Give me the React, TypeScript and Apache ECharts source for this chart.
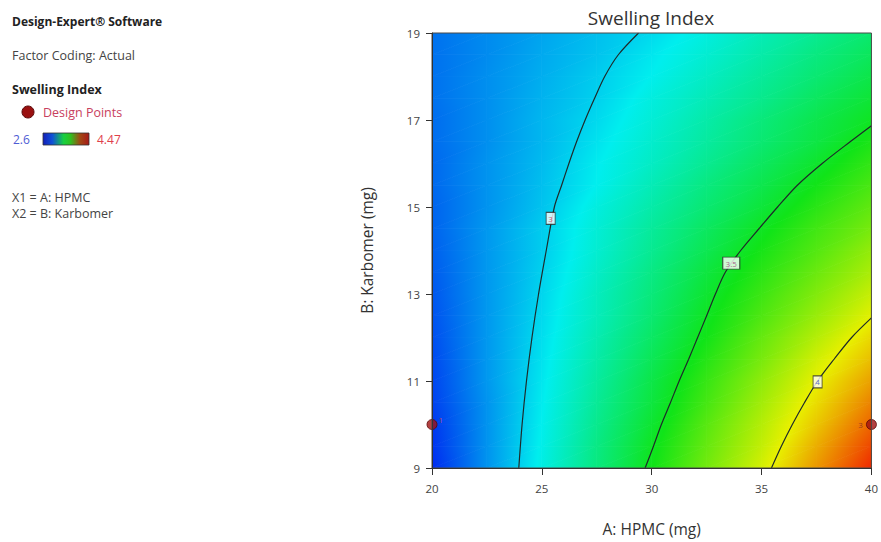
import React, { useEffect, useRef } from "react";
import * as echarts from "echarts";

// ---- Data ----
const A_LEVELS = [20, 22.5, 25, 27.5, 30, 32.5, 35, 37.5, 40];
const B_LEVELS = [9, 9.5, 10, 10.5, 11, 11.5, 12, 12.5, 13, 13.5, 14, 14.5, 15, 15.5, 16, 16.5, 17, 17.5, 18, 18.5, 19];

const rowB090 = [2.62, 2.86, 3.09, 3.31, 3.53, 3.75, 3.96, 4.21, 4.47];
const rowB095 = [2.64, 2.86, 3.08, 3.3, 3.51, 3.72, 3.92, 4.16, 4.4];
const rowB100 = [2.65, 2.86, 3.07, 3.28, 3.48, 3.69, 3.89, 4.1, 4.33];
const rowB105 = [2.67, 2.86, 3.06, 3.26, 3.45, 3.65, 3.85, 4.05, 4.26];
const rowB110 = [2.68, 2.87, 3.05, 3.24, 3.43, 3.62, 3.81, 4.0, 4.19];
const rowB115 = [2.69, 2.87, 3.04, 3.22, 3.4, 3.58, 3.76, 3.95, 4.12];
const rowB120 = [2.7, 2.87, 3.03, 3.2, 3.37, 3.54, 3.72, 3.89, 4.06];
const rowB125 = [2.71, 2.87, 3.02, 3.18, 3.34, 3.51, 3.67, 3.83, 3.99];
const rowB130 = [2.72, 2.87, 3.01, 3.17, 3.32, 3.48, 3.63, 3.78, 3.93];
const rowB135 = [2.73, 2.87, 3.0, 3.15, 3.3, 3.45, 3.59, 3.73, 3.87];
const rowB140 = [2.74, 2.87, 2.99, 3.13, 3.27, 3.41, 3.55, 3.68, 3.82];
const rowB145 = [2.75, 2.87, 2.99, 3.12, 3.25, 3.38, 3.51, 3.64, 3.76];
const rowB150 = [2.75, 2.86, 2.97, 3.1, 3.22, 3.34, 3.46, 3.59, 3.71];
const rowB155 = [2.76, 2.86, 2.96, 3.07, 3.19, 3.31, 3.42, 3.54, 3.66];
const rowB160 = [2.76, 2.86, 2.95, 3.06, 3.16, 3.27, 3.38, 3.49, 3.61];
const rowB165 = [2.77, 2.85, 2.94, 3.04, 3.14, 3.24, 3.34, 3.44, 3.56];
const rowB170 = [2.77, 2.85, 2.94, 3.02, 3.12, 3.22, 3.32, 3.42, 3.51];
const rowB175 = [2.78, 2.85, 2.93, 3.0, 3.1, 3.19, 3.28, 3.38, 3.47];
const rowB180 = [2.78, 2.85, 2.92, 2.99, 3.07, 3.16, 3.25, 3.34, 3.43];
const rowB185 = [2.78, 2.84, 2.91, 2.97, 3.05, 3.13, 3.22, 3.31, 3.39];
const rowB190 = [2.78, 2.84, 2.9, 2.96, 3.02, 3.1, 3.19, 3.27, 3.35];

const GRID_ROWS = [
  rowB090, rowB095, rowB100, rowB105, rowB110, rowB115, rowB120, rowB125, rowB130, rowB135,
  rowB140, rowB145, rowB150, rowB155, rowB160, rowB165, rowB170, rowB175, rowB180, rowB185, rowB190,
];

// contour lines (A, B)
const CONTOUR_3 = [[23.95, 9], [24.1, 10], [24.3, 11], [24.55, 12], [24.85, 13], [25.2, 14], [25.57, 15], [25.9, 15.5], [26.23, 16], [26.58, 16.5], [26.97, 17], [27.4, 17.5], [27.86, 18], [28.48, 18.5], [29.4, 19]];
const CONTOUR_35 = [[29.7, 9], [30.08, 9.5], [30.44, 10], [30.85, 10.5], [31.25, 11], [31.68, 11.5], [32.09, 12], [32.5, 12.5], [32.9, 13], [33.35, 13.5], [34.05, 14], [34.88, 14.5], [35.73, 15], [36.63, 15.5], [37.76, 16], [39.03, 16.5], [40, 16.87]];
const CONTOUR_4 = [[35.45, 9], [35.9, 9.5], [36.4, 10], [36.95, 10.5], [37.55, 11], [38.3, 11.5], [39.1, 12], [40, 12.45]];

const CONTOUR_LABELS = [
  { pos: [25.4, 14.74], text: "3", color: "#cc2a48", w: 9 },
  { pos: [33.62, 13.71], text: "3.5", color: "#9a3a78", w: 17 },
  { pos: [37.55, 10.98], text: "4", color: "#3050c0", w: 9 },
];

const DESIGN_POINTS = [[20, 10], [40, 10]];
const DESIGN_POINT_LABELS = ["1", "3"];

const X_TICKS = { min: 20, max: 40, interval: 5 };
const Y_TICKS = { min: 9, max: 19, interval: 2 };

const LEGEND_MIN = "2.6";
const LEGEND_MAX = "4.47";

// colour scale (value -> colour)
const SCALE_VALUES = [2.6, 3.0675, 3.535, 4.0025, 4.47];
const SCALE_COLORS = [
  [0, 34, 240],
  [0, 238, 238],
  [16, 228, 24],
  [232, 240, 0],
  [240, 40, 0],
];

const FONT = "'Open Sans', 'Noto Sans', sans-serif";

function colorAt(v: number): string {
  const n = SCALE_VALUES.length;
  let c: number[];
  if (v <= SCALE_VALUES[0]) c = SCALE_COLORS[0];
  else if (v >= SCALE_VALUES[n - 1]) c = SCALE_COLORS[n - 1];
  else {
    let i = 0;
    while (v > SCALE_VALUES[i + 1]) i++;
    const t = (v - SCALE_VALUES[i]) / (SCALE_VALUES[i + 1] - SCALE_VALUES[i]);
    const a = SCALE_COLORS[i], b = SCALE_COLORS[i + 1];
    c = [a[0] + (b[0] - a[0]) * t, a[1] + (b[1] - a[1]) * t, a[2] + (b[2] - a[2]) * t];
  }
  return `rgb(${Math.round(c[0])},${Math.round(c[1])},${Math.round(c[2])})`;
}

function shadeTriangle(p0: number[], p1: number[], p2: number[], v0: number, v1: number, v2: number) {
  const vmin = Math.min(v0, v1, v2);
  const vmax = Math.max(v0, v1, v2);
  const d1x = p1[0] - p0[0], d1y = p1[1] - p0[1];
  const d2x = p2[0] - p0[0], d2y = p2[1] - p0[1];
  const det = d1x * d2y - d1y * d2x;
  let fill: any, stroke: any;
  if (vmax - vmin < 1e-5 || Math.abs(det) < 1e-6) {
    fill = colorAt((v0 + v1 + v2) / 3);
    stroke = fill;
  } else {
    const dv1 = v1 - v0, dv2 = v2 - v0;
    const gx = (dv1 * d2y - dv2 * d1y) / det;
    const gy = (d1x * dv2 - d2x * dv1) / det;
    const g2 = gx * gx + gy * gy;
    const sx = p0[0] + (gx * (vmin - v0)) / g2;
    const sy = p0[1] + (gy * (vmin - v0)) / g2;
    const ex = p0[0] + (gx * (vmax - v0)) / g2;
    const ey = p0[1] + (gy * (vmax - v0)) / g2;
    const offs = [0, 0.5, 1];
    SCALE_VALUES.forEach((k) => {
      if (k > vmin && k < vmax) offs.push((k - vmin) / (vmax - vmin));
    });
    offs.sort((a, b) => a - b);
    const stops = offs.map((o) => ({ offset: o, color: colorAt(vmin + o * (vmax - vmin)) }));
    fill = new echarts.graphic.LinearGradient(sx, sy, ex, ey, stops, true);
    stroke = new echarts.graphic.LinearGradient(sx, sy, ex, ey, stops.map((s) => ({ ...s })), true);
  }
  return {
    type: "polygon",
    shape: { points: [p0, p1, p2] },
    style: { fill, stroke, lineWidth: 0.8 },
  };
}

function buildCells() {
  const cells: number[][] = [];
  for (let j = 0; j < B_LEVELS.length - 1; j++) {
    for (let i = 0; i < A_LEVELS.length - 1; i++) {
      cells.push([
        A_LEVELS[i], B_LEVELS[j], A_LEVELS[i + 1], B_LEVELS[j + 1],
        GRID_ROWS[j][i], GRID_ROWS[j][i + 1], GRID_ROWS[j + 1][i], GRID_ROWS[j + 1][i + 1],
      ]);
    }
  }
  return cells;
}

function contourSeries(data: number[][]) {
  return {
    type: "line",
    data,
    smooth: 0.3,
    showSymbol: false,
    symbol: "none",
    silent: true,
    z: 4,
    lineStyle: { color: "#1e2a2a", width: 1.2 },
  };
}

export default function App() {
  const ref = useRef<HTMLDivElement>(null);
  useEffect(() => {
    const chart = echarts.init(ref.current!, null, { renderer: "svg" });
    const option: any = {
      animation: false,
      backgroundColor: "#ffffff",
      textStyle: { fontFamily: FONT },
      grid: {
        left: 432,
        right: 9,
        top: 33,
        bottom: 70,
        show: true,
        borderColor: "#4a4a4a",
        borderWidth: 1,
        backgroundColor: "transparent",
        z: 10,
      },
      xAxis: {
        type: "value",
        min: X_TICKS.min,
        max: X_TICKS.max,
        interval: X_TICKS.interval,
        name: "A: HPMC (mg)",
        nameLocation: "middle",
        nameGap: 53,
        nameTextStyle: { fontSize: 15.5, color: "#333", fontFamily: FONT },
        axisLine: { show: true, lineStyle: { color: "#333", width: 1 } },
        axisTick: { show: true, length: 7, lineStyle: { color: "#333" } },
        axisLabel: { color: "#444", fontSize: 11.5, margin: 14, fontFamily: FONT },
        splitLine: { show: false },
        z: 10,
      },
      yAxis: {
        type: "value",
        min: Y_TICKS.min,
        max: Y_TICKS.max,
        interval: Y_TICKS.interval,
        name: "B: Karbomer (mg)",
        nameLocation: "middle",
        nameRotate: 90,
        nameGap: 57,
        nameTextStyle: { fontSize: 15.5, color: "#333", fontFamily: FONT },
        axisLine: { show: true, lineStyle: { color: "#333", width: 1 } },
        axisTick: { show: true, length: 6, lineStyle: { color: "#333" } },
        axisLabel: { color: "#444", fontSize: 11.5, margin: 12, fontFamily: FONT },
        splitLine: { show: false },
        z: 10,
      },
      graphic: [
        { type: "text", x: 651, y: 18, style: { text: "Swelling Index", fontSize: 19, fill: "#333", align: "center", verticalAlign: "middle", fontFamily: FONT } },
        { type: "text", x: 12, y: 21, style: { text: "Design-Expert® Software", fontSize: 12, fontWeight: "bold", fill: "#222", verticalAlign: "middle", fontFamily: FONT } },
        { type: "text", x: 12, y: 55, style: { text: "Factor Coding: Actual", fontSize: 12.5, fill: "#444", verticalAlign: "middle", fontFamily: FONT } },
        { type: "text", x: 12, y: 89, style: { text: "Swelling Index", fontSize: 12.5, fontWeight: "bold", fill: "#222", verticalAlign: "middle", fontFamily: FONT } },
        { type: "circle", shape: { cx: 28, cy: 112, r: 6 }, style: { fill: "#9a1010", stroke: "#5a0808", lineWidth: 1 } },
        { type: "text", x: 43, y: 112, style: { text: "Design Points", fontSize: 12.5, fill: "#c8405e", verticalAlign: "middle", fontFamily: FONT } },
        { type: "text", x: 13, y: 139, style: { text: LEGEND_MIN, fontSize: 12, fill: "#4e5cd4", verticalAlign: "middle", fontFamily: FONT } },
        {
          type: "rect",
          shape: { x: 43, y: 133, width: 46, height: 12 },
          style: {
            fill: new echarts.graphic.LinearGradient(0, 0, 1, 0, [
              { offset: 0, color: "#1420b8" },
              { offset: 0.2, color: "#1050d8" },
              { offset: 0.45, color: "#18d040" },
              { offset: 0.6, color: "#30c020" },
              { offset: 0.8, color: "#a04a14" },
              { offset: 1, color: "#a81818" },
            ]),
            stroke: "#333",
            lineWidth: 0.8,
          },
        },
        { type: "text", x: 97, y: 139, style: { text: LEGEND_MAX, fontSize: 12, fill: "#e0404a", verticalAlign: "middle", fontFamily: FONT } },
        { type: "text", x: 12, y: 197, style: { text: "X1 = A: HPMC", fontSize: 12.5, fill: "#444", verticalAlign: "middle", fontFamily: FONT } },
        { type: "text", x: 12, y: 213, style: { text: "X2 = B: Karbomer", fontSize: 12.5, fill: "#444", verticalAlign: "middle", fontFamily: FONT } },
      ],
      series: [
        {
          type: "custom",
          silent: true,
          z: 1,
          clip: true,
          dimensions: ["a0", "b0", "a1", "b1", "v00", "v10", "v01", "v11"],
          encode: { x: [0, 2], y: [1, 3] },
          data: buildCells(),
          renderItem: (params: any, api: any) => {
            const a0 = api.value(0), b0 = api.value(1), a1 = api.value(2), b1 = api.value(3);
            const v00 = api.value(4), v10 = api.value(5), v01 = api.value(6), v11 = api.value(7);
            const p00 = api.coord([a0, b0]);
            const p10 = api.coord([a1, b0]);
            const p01 = api.coord([a0, b1]);
            const p11 = api.coord([a1, b1]);
            return {
              type: "group",
              children: [
                shadeTriangle(p00, p10, p11, v00, v10, v11),
                shadeTriangle(p00, p11, p01, v00, v11, v01),
              ],
            };
          },
        },
        contourSeries(CONTOUR_3),
        contourSeries(CONTOUR_35),
        contourSeries(CONTOUR_4),
        {
          type: "scatter",
          silent: true,
          z: 6,
          clip: false,
          data: CONTOUR_LABELS.map((l) => ({
            value: l.pos,
            symbol: "rect",
            symbolSize: [l.w, 12],
            itemStyle: { color: "#ffffff", borderColor: "#2a2a2a", borderWidth: 1 },
            label: { show: true, position: "inside", formatter: l.text, fontSize: 8, color: l.color, fontFamily: FONT },
          })),
        },
        {
          type: "scatter",
          silent: true,
          z: 7,
          clip: false,
          symbol: "circle",
          symbolSize: 10,
          itemStyle: { color: "#a01212", borderColor: "#5a0606", borderWidth: 1 },
          data: DESIGN_POINTS.map((p, i) => ({
            value: p,
            label: {
              show: true,
              formatter: DESIGN_POINT_LABELS[i],
              position: i === 0 ? "right" : "left",
              offset: i === 0 ? [-2, -5] : [0, 0],
              distance: 3,
              fontSize: 8,
              color: i === 0 ? "#d05050" : "#7a2a2a",
              fontFamily: FONT,
            },
          })),
        },
      ],
    };
    chart.setOption(option);
    return () => chart.dispose();
  }, []);
  return <div ref={ref} style={{ position: "fixed", left: 0, top: 0, width: 881, height: 542 }} />;
}
